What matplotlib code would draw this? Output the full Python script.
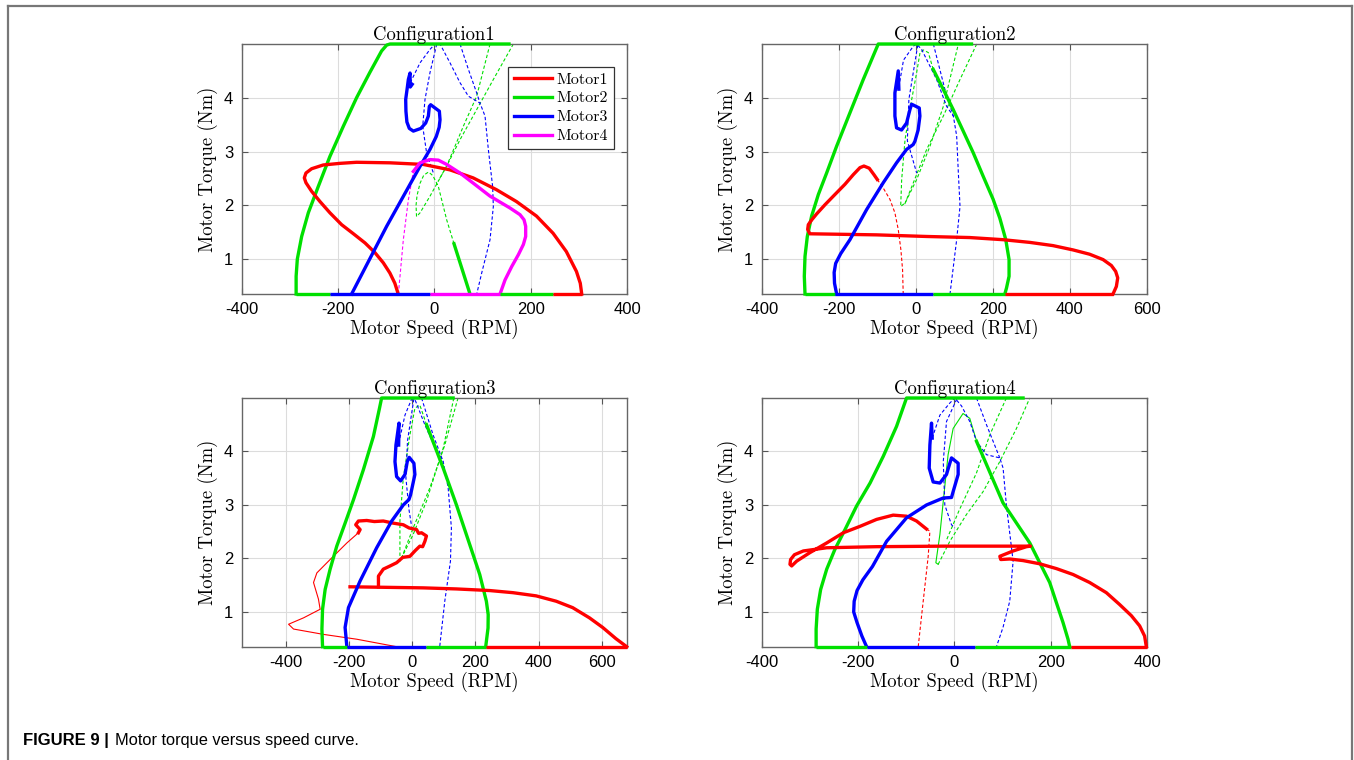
import matplotlib
matplotlib.use("Agg")
import matplotlib.pyplot as plt
from matplotlib.lines import Line2D

plt.rcParams['axes.unicode_minus'] = False

motor_names = ["Motor1", "Motor2", "Motor3", "Motor4"]
motor_colors = ["#ff0000", "#00e000", "#0000ff", "#ff00ff"]

y_low, y_high = 0.35, 5.0

titles = ["Configuration1", "Configuration2", "Configuration3", "Configuration4"]
x_limits = [(-400, 400), (-400, 600), (-540, 680), (-400, 400)]
x_ticks = [[-400, -200, 0, 200, 400],
           [-400, -200, 0, 200, 400, 600],
           [-400, -200, 0, 200, 400, 600],
           [-400, -200, 0, 200, 400]]
y_ticks = [1, 2, 3, 4]

# ---------------- Configuration1 ----------------
c1_m1_thick = [(-75, 0.35), (-82, 0.55), (-92.3, 0.74), (-106, 0.93), (-123.4, 1.12), (-144, 1.30),
               (-168, 1.47), (-192.6, 1.64), (-216.8, 1.86), (-237.5, 2.07), (-254.8, 2.26),
               (-266.6, 2.42), (-270, 2.51), (-266.6, 2.60), (-254.8, 2.68), (-230.6, 2.75),
               (-196, 2.78), (-161.5, 2.80), (-92, 2.79), (-23, 2.76), (32, 2.66), (80.5, 2.51),
               (129, 2.29), (170.4, 2.07), (212, 1.80), (246.5, 1.48), (274, 1.14), (295, 0.77),
               (303, 0.55), (306, 0.35)]
c1_m2_thick = [(-287, 0.35), (-287, 0.68), (-284.5, 1.0), (-275.5, 1.42), (-261.7, 1.86),
               (-241, 2.35), (-216.8, 2.91), (-189, 3.47), (-161.5, 4.0), (-134, 4.47),
               (-109.6, 4.87), (-99, 4.98), (-92, 5.0), (155, 5.0)]
c1_m2_thick_b = [(40.8, 1.285), (74, 0.35)]
c1_m2_dash_a = [(40.8, 1.285), (25.6, 1.73), (8.3, 2.35), (-3, 2.55), (-12, 2.62), (-22, 2.56),
                (-29.7, 2.41), (-36, 2.18), (-38, 2.0), (-37, 1.79), (-29.7, 1.86), (-9, 2.17),
                (25.6, 2.73), (60.2, 3.47), (87.9, 4.03), (115.6, 5.0)]
c1_m2_dash_b = [(164, 5.0), (122.5, 4.34), (87.9, 3.78), (53.3, 3.22), (25.6, 2.73), (8, 2.45)]
c1_m3_thick = [(-171.8, 0.35), (-99, 1.61), (-30, 2.72), (-9, 3.04), (4, 3.28), (10, 3.45),
               (11.8, 3.59), (10.4, 3.75), (1.4, 3.81), (-7.6, 3.87), (-10.4, 3.84), (-12.4, 3.66),
               (-18, 3.53), (-28, 3.43), (-43.6, 3.38), (-52, 3.43), (-57, 3.55), (-59, 3.75),
               (-59.5, 3.97), (-56, 4.2), (-54, 4.34), (-50.5, 4.46), (-50, 4.2), (-46, 4.25)]
c1_m3_dash_a = [(-50, 4.28), (-29.7, 4.65), (-9, 4.9), (1.4, 5.0), (11.8, 5.0), (32.5, 4.65),
                (53.3, 4.28), (70.6, 4.03), (94.8, 3.9), (105.2, 3.66), (112.1, 3.04), (121, 2.35),
                (122.5, 1.98), (115.6, 1.36), (98.3, 0.74), (88, 0.35)]
c1_m3_dash_b = [(53.3, 5.0), (70.6, 4.53), (87.9, 4.09), (94.8, 3.9)]
c1_m3_dash_c = [(5, 5.0), (-9, 4.47), (-19.4, 3.97), (-24.2, 3.47), (-16, 2.97), (-2, 2.6)]
c1_m4_thick = [(-43.6, 2.63), (-29.7, 2.79), (-9, 2.85), (8.3, 2.84), (25.6, 2.76), (53.3, 2.6),
               (81, 2.41), (115.6, 2.17), (157, 1.95), (177.9, 1.825), (186.2, 1.73),
               (189.6, 1.61), (189.6, 1.42), (184.8, 1.27), (174.4, 1.08), (160.6, 0.86),
               (146.7, 0.61), (136.4, 0.35)]
c1_m4_dash = [(-74.7, 0.35), (-64.4, 1.36), (-54, 2.1), (-43.6, 2.63)]
c1_floor = [(-287, -216.8, 1), (-216.8, -9.4, 2), (-9.4, 136, 3), (136, 246.5, 1), (246.5, 306, 0)]

# ---------------- Configuration2 ----------------
c2_m1_thick = [(511.8, 0.35), (520.5, 0.49), (524, 0.65), (518.7, 0.77), (507.5, 0.88), (486, 0.99),
               (451, 1.09), (408, 1.17), (356, 1.25), (295.8, 1.31), (226.6, 1.36), (140, 1.40),
               (27.8, 1.42), (-101.8, 1.45), (-275, 1.47), (-280.7, 1.55), (-279, 1.64),
               (-270, 1.73), (-257.4, 1.84), (-235.8, 2.01), (-210, 2.2), (-184, 2.39),
               (-162.3, 2.57), (-145, 2.70), (-134.7, 2.73), (-121, 2.69), (-108.7, 2.57),
               (-100, 2.48)]
c2_m1_dash = [(-100, 2.48), (-84.5, 2.32), (-67.2, 2.11), (-54.3, 1.86), (-45.6, 1.55), (-38.7, 1.17),
              (-34.4, 0.80), (-32.7, 0.35)]
c2_m2_thick = [(-287.6, 0.35), (-289.4, 0.68), (-287.6, 1.05), (-281.6, 1.42), (-270.4, 1.80),
               (-253, 2.2), (-231.5, 2.6), (-205.5, 3.1), (-171, 3.72), (-136.4, 4.34),
               (-110.5, 4.78), (-97.5, 5.0), (144.5, 5.0)]
c2_m2_thick_b = [(45, 4.53), (71, 4.16), (97, 3.78), (123, 3.38), (148.8, 2.98), (174.8, 2.54),
                 (200.7, 2.11), (218, 1.76), (233.5, 1.36), (242, 0.99), (242, 0.68), (235.3, 0.46),
                 (231, 0.35)]
c2_m2_dash_a = [(45, 4.53), (32.5, 4.84), (19.5, 4.89), (10.9, 4.84), (2.2, 4.47), (-14, 3.84),
                (-28, 3.22), (-36.7, 2.48), (-39.3, 1.98), (-28, 2.04), (2.2, 2.48), (36.8, 3.10),
                (71.4, 3.84), (110.4, 5.0)]
c2_m2_dash_b = [(158, 5.0), (114.7, 4.34), (71.4, 3.66), (28.2, 3.04), (-6.4, 2.42), (-30, 2.0)]
c2_m3_thick = [(-205.5, 0.35), (-211, 0.55), (-212, 0.75), (-208, 0.92), (-195, 1.1), (-171, 1.36),
               (-127.7, 1.92), (-84.5, 2.42), (-50, 2.79), (-24, 3.04), (-6.8, 3.13), (-2.4, 3.19),
               (6, 3.4), (10.6, 3.66), (8.9, 3.81), (-11, 3.88), (-15.3, 3.78), (-24, 3.53),
               (-37, 3.40), (-50, 3.44), (-54.3, 3.66), (-54.3, 4.09), (-45.6, 4.5), (-44, 4.16)]
c2_m3_dash_a = [(-44, 4.2), (-32, 4.7), (-6.4, 4.96), (2, 5.0), (15, 4.9), (54, 4.34), (80, 3.84),
                (97.4, 3.66), (106, 3.29), (110.4, 2.6), (114.7, 1.98), (106, 1.36), (88.7, 0.35)]
c2_m3_dash_b = [(45.5, 5.0), (80, 4.03), (97.4, 3.66)]
c2_m3_dash_c = [(5, 4.98), (-18, 3.97), (-22, 3.2), (2.2, 2.6)]
c2_floor = [(-287.6, -210, 1), (-210, 45, 2), (45, 231, 1), (231, 512, 0)]

# ---------------- Configuration3 ----------------
c3_m1_thick = [(679, 0.35), (645, 0.50), (603, 0.71), (561, 0.89), (508, 1.08), (456, 1.20),
               (392.6, 1.30), (319, 1.36), (245, 1.40), (140, 1.43), (35, 1.45), (-197, 1.47)]
c3_m1_thick_b = [(-107, 1.47), (-107, 1.67), (-91.6, 1.80), (-70, 1.86), (-49.5, 1.92), (-30, 2.02),
                 (-7.4, 2.04), (10, 2.15), (24, 2.23), (33, 2.22), (40, 2.32), (45, 2.42),
                 (29.5, 2.48), (20, 2.47), (13.7, 2.54), (-10, 2.57), (-28.4, 2.63), (-60, 2.66),
                 (-91.6, 2.70), (-120, 2.69), (-144, 2.71), (-170.5, 2.70), (-179, 2.63),
                 (-165, 2.54), (-170.5, 2.48)]
c3_m1_thin = [(-170.5, 2.48), (-207, 2.29), (-260, 1.98), (-302, 1.73), (-312.6, 1.55), (-297, 1.24),
              (-291.6, 1.05), (-344, 0.89), (-391.6, 0.77), (-375.8, 0.68), (-281, 0.58),
              (-175.8, 0.49), (-49.5, 0.35)]
c3_m2_thick = [(-284, 0.35), (-286, 0.68), (-284, 1.05), (-275.8, 1.42), (-260, 1.80), (-239, 2.23),
               (-212.6, 2.66), (-186, 3.1), (-154.7, 3.66), (-123, 4.28), (-104, 4.8), (-97, 5.0),
               (129.5, 5.0)]
c3_m2_thick_b = [(45.3, 4.5), (98, 3.69), (140, 3.0), (182, 2.26), (213.7, 1.70), (234.7, 1.20),
                 (240.5, 0.95), (240, 0.7), (232.6, 0.35)]
c3_m2_dash_a = [(45.3, 4.5), (24, 4.87), (8.4, 4.81), (-7.4, 4.31), (-28.4, 3.50), (-39, 2.70),
                (-39, 1.95), (3, 2.45), (45, 3.07), (98, 4.06), (131.6, 5.0)]
c3_m2_dash_b = [(145, 5.0), (103, 4.12), (55.8, 3.32), (3, 2.57), (-33.7, 2.01)]
c3_m3_thick = [(-207, 0.35), (-212.6, 0.71), (-202, 1.08), (-165, 1.58), (-112.6, 2.2), (-65, 2.70),
               (-28.4, 3.0), (-10.5, 3.1), (-5.3, 3.19), (8.4, 3.57), (5.3, 3.78), (-9.5, 3.89),
               (-15.8, 3.81), (-23, 3.57), (-36.8, 3.45), (-49.5, 3.53), (-54.7, 3.81),
               (-51.6, 4.12), (-42, 4.53), (-43, 4.12)]
c3_m3_dash_a = [(-43, 4.15), (-23, 4.68), (-2, 4.98), (10, 4.95), (40, 4.5), (66, 4.15), (98, 3.81),
                (113.7, 3.32), (124, 2.57), (121, 1.95), (103, 1.2), (87, 0.35)]
c3_m3_dash_b = [(29.5, 5.0), (66, 4.31), (98, 3.81)]
c3_m3_dash_c = [(5, 4.98), (-15, 4.2), (-20, 3.5), (-10, 2.9), (-2, 2.6)]
c3_floor = [(-284, -207, 1), (-207, 45, 2), (45, 235, 1), (235, 679, 0)]

# ---------------- Configuration4 ----------------
c4_m1_thick = [(398.6, 0.35), (395, 0.55), (384.7, 0.74), (367.5, 0.93), (343, 1.14), (315.6, 1.36),
               (281, 1.55), (246.5, 1.70), (212, 1.81), (177.3, 1.90), (142.8, 1.96), (115, 1.99),
               (96.4, 1.98), (94.4, 2.04), (122, 2.14), (149.7, 2.22), (158, 2.23), (-23.2, 2.23),
               (-161.5, 2.22), (-265, 2.2), (-313.6, 2.14), (-332, 2.07), (-340, 1.98),
               (-341.3, 1.89), (-337.8, 1.86), (-327.4, 1.95), (-299.7, 2.11), (-265, 2.29),
               (-230.6, 2.48), (-196, 2.60), (-161.5, 2.73), (-127, 2.81), (-99.3, 2.79),
               (-78.5, 2.70), (-57.8, 2.55)]
c4_m1_dash = [(-57.8, 2.55), (-50.8, 2.51), (-54.3, 2.04), (-61.2, 1.48), (-68, 0.93), (-75, 0.35)]
c4_m2_thick = [(-287, 0.35), (-287, 0.68), (-284.5, 1.05), (-277.6, 1.42), (-265, 1.80), (-248, 2.17),
               (-227, 2.54), (-203, 2.98), (-175, 3.41), (-147.6, 3.91), (-120, 4.47), (-99.3, 5.0),
               (142.7, 5.0)]
c4_m2_thick_b = [(46, 4.19), (101, 3.04), (156.6, 2.29), (198, 1.55), (212, 1.17), (225.7, 0.80),
                 (236, 0.49), (239.5, 0.35)]
c4_m2_thin = [(46, 4.2), (32, 4.62), (18, 4.71), (-2.5, 4.43), (-13, 3.94), (-23, 3.07), (-30, 2.45),
              (-38.4, 1.92), (-33.6, 1.89)]
c4_m2_dash_a = [(-33.6, 1.89), (-9.4, 2.32), (25, 2.82), (59.7, 3.25), (94.3, 3.81), (128.9, 4.43),
                (156.6, 5.0)]
c4_m2_dash_b = [(108, 5.0), (73.6, 4.31), (46, 3.6), (10, 2.9), (-16, 2.35)]
c4_m3_thick = [(-182.2, 0.35), (-192, 0.55), (-202, 0.8), (-209, 1.0), (-208, 1.2), (-202, 1.4),
               (-190, 1.6), (-170, 1.85), (-140.7, 2.32), (-99.3, 2.76), (-57.8, 3.0),
               (-23.2, 3.13), (-5.9, 3.14), (-2.5, 3.25), (7.9, 3.57), (7.9, 3.78), (-5.9, 3.88),
               (-9.4, 3.78), (-16.3, 3.57), (-30, 3.41), (-44, 3.43), (-52.2, 3.69), (-50.8, 4.12),
               (-47.4, 4.53), (-46, 4.25)]
c4_m3_dash_a = [(-46, 4.25), (-30, 4.68), (-10, 4.9), (1, 5.0), (15, 4.85), (32, 4.56), (46, 4.19),
                (66.7, 3.94), (94.3, 3.88), (101.2, 3.69), (108, 3.0), (122, 1.95), (115, 1.20),
                (101, 0.71), (87.4, 0.35)]
c4_m3_dash_b = [(46, 5.0), (66.7, 4.5), (94.3, 3.88)]
c4_m3_dash_c = [(5, 4.98), (-16.3, 4.56), (-23, 3.81), (-19.8, 3.0), (-5.9, 2.63), (1, 2.57)]
c4_floor = [(-287, -182, 1), (-182, 42.5, 2), (42.5, 243, 1), (243, 400, 0)]

# (motor index, style, points) for each panel
configs = [
    [(1, "dash", c1_m2_dash_a), (1, "dash", c1_m2_dash_b), (2, "dash", c1_m3_dash_a),
     (2, "dash", c1_m3_dash_b), (2, "dash", c1_m3_dash_c), (3, "dash", c1_m4_dash),
     (1, "thick", c1_m2_thick), (1, "thick", c1_m2_thick_b), (0, "thick", c1_m1_thick),
     (2, "thick", c1_m3_thick), (3, "thick", c1_m4_thick)],
    [(1, "dash", c2_m2_dash_a), (1, "dash", c2_m2_dash_b), (2, "dash", c2_m3_dash_a),
     (2, "dash", c2_m3_dash_b), (2, "dash", c2_m3_dash_c), (0, "dash", c2_m1_dash),
     (1, "thick", c2_m2_thick), (1, "thick", c2_m2_thick_b), (0, "thick", c2_m1_thick),
     (2, "thick", c2_m3_thick)],
    [(1, "dash", c3_m2_dash_a), (1, "dash", c3_m2_dash_b), (2, "dash", c3_m3_dash_a),
     (2, "dash", c3_m3_dash_b), (2, "dash", c3_m3_dash_c), (0, "thin", c3_m1_thin),
     (1, "thick", c3_m2_thick), (1, "thick", c3_m2_thick_b), (0, "thick", c3_m1_thick),
     (0, "thick", c3_m1_thick_b), (2, "thick", c3_m3_thick)],
    [(1, "dash", c4_m2_dash_a), (1, "dash", c4_m2_dash_b), (1, "thin", c4_m2_thin),
     (2, "dash", c4_m3_dash_a), (2, "dash", c4_m3_dash_b), (2, "dash", c4_m3_dash_c),
     (0, "dash", c4_m1_dash), (1, "thick", c4_m2_thick), (1, "thick", c4_m2_thick_b),
     (0, "thick", c4_m1_thick), (2, "thick", c4_m3_thick)],
]
floors = [c1_floor, c2_floor, c3_floor, c4_floor]

serif = ["cmr10", "DejaVu Serif"]
sans = ["Liberation Sans", "DejaVu Sans"]

W, H = 1354, 760
fig = plt.figure(figsize=(W / 100, H / 100), dpi=100)

# left, top, right, bottom in pixels
boxes = [(241.7, 44, 627, 294), (761.7, 44, 1147, 294),
         (241.7, 398, 627, 646.7), (761.7, 398, 1147, 646.7)]

styles = {"thick": dict(lw=2.4, ls="-"),
          "dash": dict(lw=0.8, ls=(0, (3, 2))),
          "thin": dict(lw=0.8, ls="-")}

for i in range(4):
    l, t, r, b = boxes[i]
    ax = fig.add_axes([l / W, 1 - b / H, (r - l) / W, (b - t) / H])
    for m, st, pts in configs[i]:
        xs = [p[0] for p in pts]
        ys = [p[1] for p in pts]
        ax.plot(xs, ys, color=motor_colors[m], clip_on=False, zorder=3 if st == "thick" else 2,
                solid_joinstyle="round", **styles[st])
    for x0, x1, m in floors[i]:
        ax.plot([x0, x1], [y_low, y_low], color=motor_colors[m], lw=2.4, clip_on=False, zorder=4,
                solid_capstyle="butt")
    ax.set_xlim(*x_limits[i])
    ax.set_ylim(y_low, y_high)
    ax.set_xticks(x_ticks[i])
    ax.set_yticks(y_ticks)
    ax.grid(True, color="#dcdcdc", lw=0.8)
    ax.set_axisbelow(True)
    ax.tick_params(direction="in", length=4, top=True, right=True, labelsize=12, color="#555555",
                   pad=6)
    for lab in ax.get_xticklabels() + ax.get_yticklabels():
        lab.set_family(sans)
    for sp in ax.spines.values():
        sp.set_color("#666666")
        sp.set_linewidth(1.0)
    ax.set_title(titles[i], family=serif, fontsize=13.5, pad=3)
    ax.set_xlabel("Motor Speed (RPM)", family=serif, fontsize=13.5, labelpad=1)
    ax.set_ylabel("Motor Torque (Nm)", family=serif, fontsize=13.5, labelpad=4)
    if i == 0:
        handles = [Line2D([0], [0], color=c, lw=2.4) for c in motor_colors]
        leg = ax.legend(handles, motor_names, loc="upper right", bbox_to_anchor=(0.966, 0.909),
                        borderaxespad=0, prop={"family": serif, "size": 11.5}, handlelength=2.4,
                        fancybox=False, framealpha=1, edgecolor="#333333", borderpad=0.35,
                        labelspacing=0.3, handletextpad=0.3)
        leg.get_frame().set_linewidth(0.9)

# outer frame
frame_kw = dict(color="#777777", lw=1.6)
fig.add_artist(Line2D([8 / W, 8 / W], [0, 1 - 6 / H], **frame_kw))
fig.add_artist(Line2D([8 / W, 1352 / W], [1 - 6 / H, 1 - 6 / H], **frame_kw))
fig.add_artist(Line2D([1352 / W, 1352 / W], [0, 1 - 6 / H], **frame_kw))

fig.text(23 / W, 1 - 740 / H, "FIGURE 9 |", family=sans, fontsize=12, weight="bold", va="center")
fig.text(115 / W, 1 - 740 / H, "Motor torque versus speed curve.", family=sans, fontsize=11.8,
         va="center")

fig.savefig("out.png", dpi=100)
